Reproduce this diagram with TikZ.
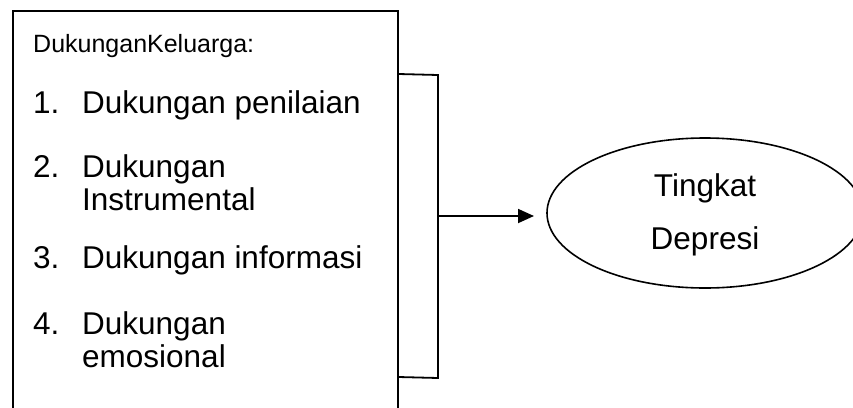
\documentclass[tikz,border=0pt]{standalone}
\usepackage{fontspec}
\setmainfont{Liberation Sans}
\usetikzlibrary{shapes.geometric,arrows.meta}

\tikzset{
  frame/.style={draw=black, line width=1.6pt},
  itemtext/.style={anchor=base west, inner sep=0pt, font=\fontsize{31.5}{34}\selectfont},
  headtext/.style={anchor=base west, inner sep=0pt, font=\fontsize{25}{28}\selectfont},
  ovaltext/.style={anchor=base, inner sep=0pt, font=\fontsize{31.5}{34}\selectfont},
  link/.style={draw=black, line width=1.8pt},
  pointer/.style={link, -{Triangle[length=16pt,width=14pt]}}
}

\begin{document}
\begin{tikzpicture}[x=1pt, y=-1pt]
  \useasboundingbox (0,0) rectangle (853,407);
  \clip (0,0) rectangle (853,407);

  % left box with the list of family-support items
  \node[frame, anchor=north west, minimum width=385pt, minimum height=430pt,
        inner sep=0pt] (box) at (12,10) {};

  \node[headtext] (head) at (33,52) {DukunganKeluarga:};
  \node[itemtext] (n1) at (33,113) {1.};
  \node[itemtext] (i1) at (82,113) {Dukungan penilaian};
  \node[itemtext] (n2) at (33,177) {2.};
  \node[itemtext] (i2) at (82,177) {Dukungan};
  \node[itemtext] (i2b) at (82,210) {Instrumental};
  \node[itemtext] (n3) at (33,268) {3.};
  \node[itemtext] (i3) at (82,268) {Dukungan informasi};
  \node[itemtext] (n4) at (33,334) {4.};
  \node[itemtext] (i4) at (82,334) {Dukungan};
  \node[itemtext] (i4b) at (82,367) {emosional};

  % outcome ellipse
  \node[frame, ellipse, minimum width=316pt, minimum height=150pt,
        inner sep=0pt] (oval) at (705,213) {};
  \node[ovaltext] (o1) at (705,196) {Tingkat};
  \node[ovaltext] (o2) at (705,249) {Depresi};

  % bracket joining the box to the arrow
  \coordinate (b1) at (box.east |- 0,74);
  \coordinate (b2) at (438,75);
  \coordinate (b3) at (438,378);
  \coordinate (b4) at (box.east |- 0,377);
  \draw[link] (b1) -- (b2) -- (b3) -- (b4);

  \coordinate (mid) at (438,216);
  \coordinate (tip) at (534,216);
  \draw[pointer] (mid) -- (tip);
\end{tikzpicture}
\end{document}
